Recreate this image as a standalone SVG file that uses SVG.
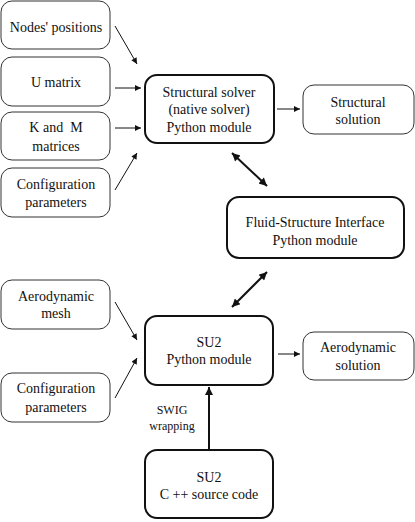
<svg xmlns="http://www.w3.org/2000/svg" width="415" height="522" viewBox="0 0 415 522">
<style>
.b{fill:#fff;stroke:#333;stroke-width:1}
.m{fill:#fff;stroke:#111;stroke-width:2}
text{font-family:"Liberation Serif","Times New Roman",serif;font-size:14px;fill:#111;text-anchor:middle;stroke:none}
.s{font-size:12px}
.c line{stroke:#111;stroke-width:1}
.c .t{stroke-width:2}
</style>
<defs>
<marker id="a" viewBox="0 0 10 10" refX="10" refY="5" markerWidth="8" markerHeight="6" orient="auto" markerUnits="userSpaceOnUse"><path d="M0,0L10,5L0,10z" fill="#111"/></marker>
<marker id="A" viewBox="0 0 10 10" refX="10" refY="5" markerWidth="10" markerHeight="8" orient="auto-start-reverse" markerUnits="userSpaceOnUse"><path d="M0,0L10,5L0,10z" fill="#111"/></marker>
</defs>
<g id="nodes_positions"><rect class="b" x="1" y="1" width="109" height="48" rx="11"/><text x="56" y="32">Nodes' positions</text></g>
<g id="u_matrix"><rect class="b" x="1" y="57" width="109" height="49" rx="11"/><text x="56" y="87">U matrix</text></g>
<g id="km_matrices"><rect class="b" x="1" y="112" width="109" height="48" rx="11"/><text x="56" y="132" xml:space="preserve">K and  M</text><text x="56" y="151">matrices</text></g>
<g id="config1"><rect class="b" x="1" y="168" width="109" height="49" rx="11"/><text x="56" y="189">Configuration</text><text x="56" y="207">parameters</text></g>
<g id="structural_solver"><rect class="m" x="145" y="75" width="129" height="68" rx="12"/><text x="209" y="97">Structural solver</text><text x="209" y="114">(native solver)</text><text x="209" y="132">Python module</text></g>
<g id="structural_solution"><rect class="b" x="303" y="85" width="111" height="49" rx="11"/><text x="358" y="107">Structural</text><text x="358" y="124">solution</text></g>
<g id="fsi"><rect class="m" x="227" y="197" width="177" height="61" rx="12"/><text x="315" y="227">Fluid-Structure Interface</text><text x="315" y="245">Python module</text></g>
<g id="aero_mesh"><rect class="b" x="1" y="280" width="109" height="49" rx="11"/><text x="56" y="301">Aerodynamic</text><text x="56" y="318">mesh</text></g>
<g id="config2"><rect class="b" x="1" y="373" width="109" height="49" rx="11"/><text x="56" y="393">Configuration</text><text x="56" y="412">parameters</text></g>
<g id="su2_python"><rect class="m" x="145" y="316" width="128" height="69" rx="12"/><text x="209" y="347">SU2</text><text x="209" y="364">Python module</text></g>
<g id="aero_solution"><rect class="b" x="303" y="332" width="111" height="48" rx="11"/><text x="358" y="352">Aerodynamic</text><text x="358" y="370">solution</text></g>
<g id="su2_cpp"><rect class="m" x="145" y="450" width="128" height="68" rx="12"/><text x="209" y="482">SU2</text><text x="209" y="499">C ++ source code</text></g>
<g id="connectors" class="c">
<line x1="115" y1="26" x2="137" y2="64" marker-end="url(#a)"/>
<line x1="115" y1="88" x2="141" y2="88" marker-end="url(#a)"/>
<line x1="115" y1="128" x2="141" y2="128" marker-end="url(#a)"/>
<line x1="115" y1="190" x2="137" y2="153" marker-end="url(#a)"/>
<line x1="277" y1="109" x2="300" y2="109" marker-end="url(#a)"/>
<line class="t" x1="232" y1="153" x2="267" y2="186" marker-start="url(#A)" marker-end="url(#A)"/>
<line class="t" x1="267" y1="272" x2="232" y2="307" marker-start="url(#A)" marker-end="url(#A)"/>
<line x1="115" y1="302" x2="137" y2="340" marker-end="url(#a)"/>
<line x1="115" y1="398" x2="137" y2="358" marker-end="url(#a)"/>
<line x1="278" y1="354" x2="300" y2="354" marker-end="url(#a)"/>
<line class="t" x1="209" y1="450" x2="209" y2="387" marker-end="url(#A)"/>
<text class="s" x="172" y="414">SWIG</text>
<text class="s" x="172" y="430">wrapping</text>
</g>
</svg>
